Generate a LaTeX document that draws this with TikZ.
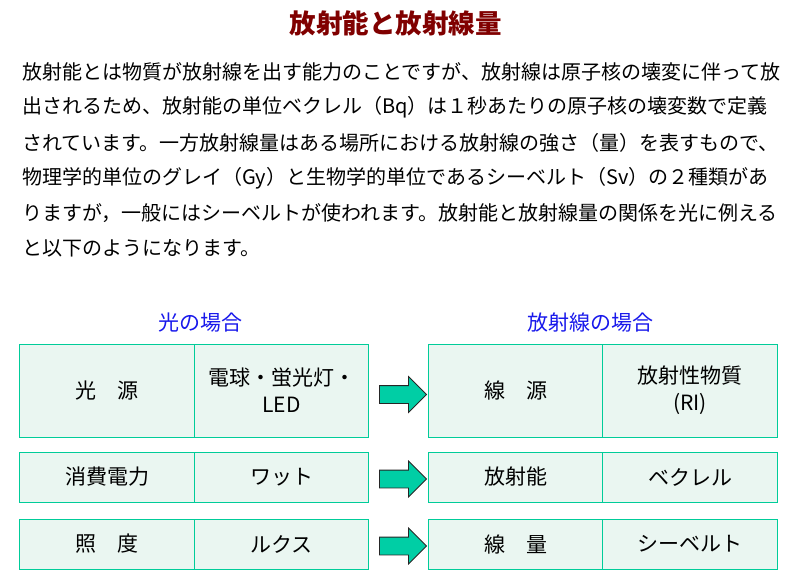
\documentclass[tikz,border=0pt]{standalone}
\usepackage{fontspec}
\setmainfont{Noto Sans CJK JP}
\usetikzlibrary{shapes.arrows}
\definecolor{titlered}{RGB}{128,0,0}
\definecolor{headblue}{RGB}{25,25,235}
\definecolor{cellline}{RGB}{0,204,153}
\definecolor{cellfill}{RGB}{234,246,241}
\definecolor{arrowfill}{RGB}{0,206,165}
\begin{document}
\begin{tikzpicture}[x=1pt, y=-1pt,
    cell/.style={rectangle, draw=cellline, line width=1pt, fill=cellfill, inner sep=0pt,
        minimum width=174.5pt, align=center, font=\fontsize{21}{27}\selectfont},
    tall/.style={minimum height=93pt},
    short/.style={minimum height=50pt},
    bigarrow/.style={single arrow, draw=black!85, fill=arrowfill, line width=0.8pt,
        inner xsep=0pt, inner ysep=8.5pt, minimum height=47pt, minimum width=35pt,
        single arrow head extend=9pt},
    textline/.style={anchor=west, inner sep=0pt, font=\fontsize{20}{24}\selectfont},
    heading/.style={text=headblue, font=\fontsize{21}{24}\selectfont}]
    \useasboundingbox (0,0) rectangle (799,581);

    % Title
    \node[text=titlered, font=\fontsize{26.5}{30}\selectfont\bfseries] (title) at (395.5,23) {放射能と放射線量};

    % Text
    \node[textline] (l1) at (22,72)  {放射能とは物質が放射線を出す能力のことですが、放射線は原子核の壊変に伴って放};
    \node[textline] (l2) at (22,107) {出されるため、放射能の単位ベクレル（Bq）は１秒あたりの原子核の壊変数で定義};
    \node[textline] (l3) at (22,143) {されています。一方放射線量はある場所における放射線の強さ（量）を表すもので、};
    \node[textline] (l4) at (22,178) {物理学的単位のグレイ（Gy）と生物学的単位であるシーベルト（Sv）の２種類があ};
    \node[textline] (l5) at (22,213) {りますが，一般にはシーベルトが使われます。放射能と放射線量の関係を光に例える};
    \node[textline] (l6) at (22,248) {と以下のようになります。};

    % Headings
    \node[heading] (hlight) at (200,323) {光の場合};
    \node[heading] (hrad) at (590,323) {放射線の場合};

    % Light table
    \node[cell, tall]  (src)   at (107,390.5)   {光　源};
    \node[cell, tall]  (bulb)  at (281.5,390.5) {電球・蛍光灯・\\LED};
    \node[cell, short] (power) at (107,477)     {消費電力};
    \node[cell, short] (watt)  at (281.5,477)   {ワット};
    \node[cell, short] (illum) at (107,544)     {照　度};
    \node[cell, short] (lux)   at (281.5,544)   {ルクス};

    % Radiation table
    \node[cell, tall]  (rsrc)  at (515.5,390.5) {線　源};
    \node[cell, tall]  (ri)    at (690,390.5)   {放射性物質\\(RI)};
    \node[cell, short] (act)   at (515.5,477)   {放射能};
    \node[cell, short] (bq)    at (690,477)     {ベクレル};
    \node[cell, short] (dose)  at (515.5,544)   {線　量};
    \node[cell, short] (sv)    at (690,544)     {シーベルト};

    % Arrows
    \node[bigarrow] (arrA) at (398.5,394.5) {};
    \node[bigarrow] (arrB) at (398.5,479) {};
    \node[bigarrow] (arrC) at (398.5,546) {};
\end{tikzpicture}
\end{document}
